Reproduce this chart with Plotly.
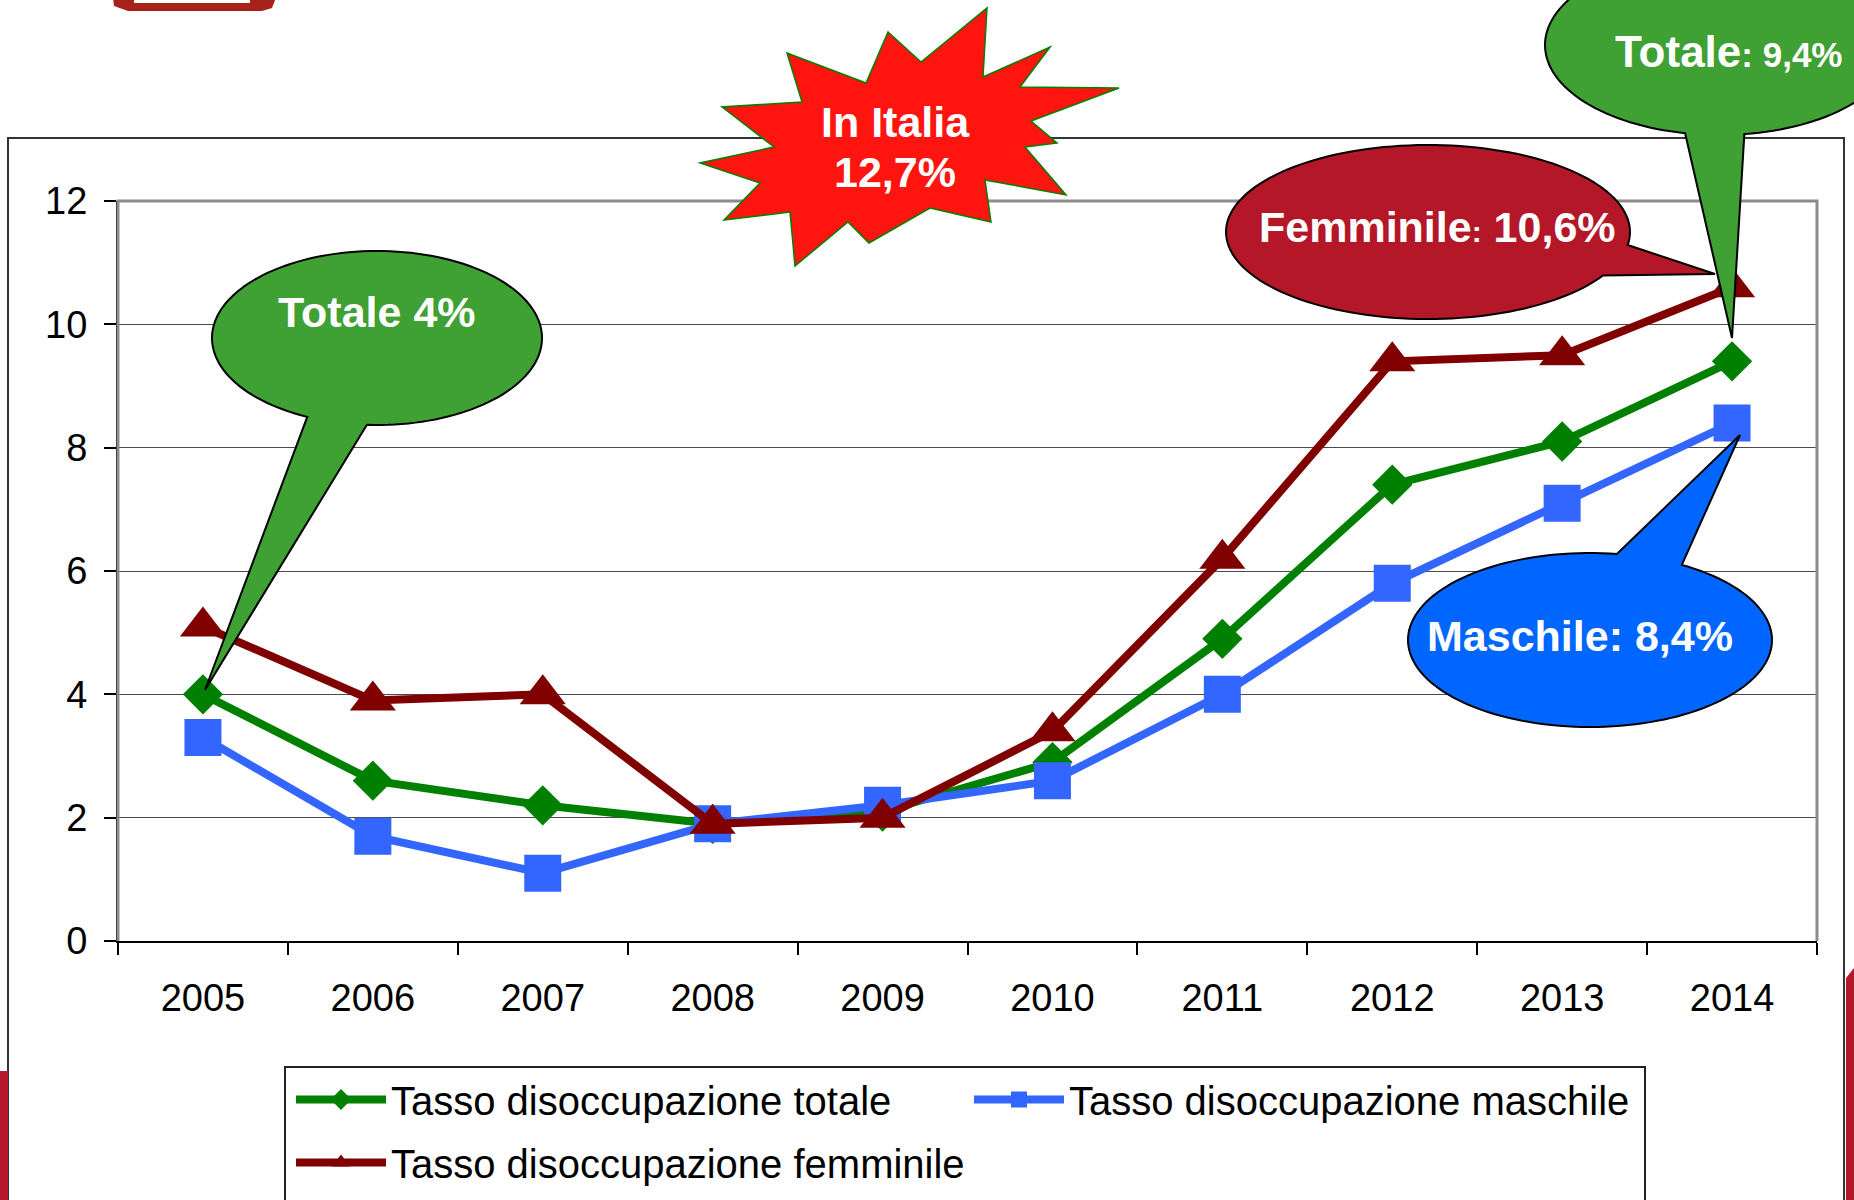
import math
import plotly.graph_objects as go

# ---------------- data ----------------
anni = ["2005", "2006", "2007", "2008", "2009", "2010", "2011", "2012", "2013", "2014"]
totale = [4.0, 2.6, 2.2, 1.9, 2.1, 2.9, 4.9, 7.4, 8.1, 9.4]
maschile = [3.3, 1.7, 1.1, 1.9, 2.2, 2.6, 4.0, 5.8, 7.1, 8.4]
femminile = [5.1, 3.9, 4.0, 1.9, 2.0, 3.4, 6.2, 9.4, 9.5, 10.6]
nomi = ["Tasso disoccupazione totale", "Tasso disoccupazione maschile",
        "Tasso disoccupazione femminile"]
y_ticks = [0, 2, 4, 6, 8, 10, 12]

# ---------------- geometry helpers (pixel -> paper) ----------------
W, H = 1854, 1200
PX0, PX1, PY0, PY1 = 118, 1817, 201, 941


def px(x):
    return (x - PX0) / (PX1 - PX0)


def py(y):
    return (PY1 - y) / (PY1 - PY0)


def path_from(points, close=True):
    s = "M " + " L ".join(f"{px(x):.5f},{py(y):.5f}" for x, y in points)
    return s + (" Z" if close else "")


def callout(cx, cy, rx, ry, t_start, t_end, tip, n=140):
    pts = []
    for i in range(n + 1):
        t = math.radians(t_start + (t_end - t_start) * i / n)
        pts.append((cx + rx * math.cos(t), cy + ry * math.sin(t)))
    pts.append(tip)
    return path_from(pts)


FONT = "Liberation Sans, Arial, sans-serif"

fig = go.Figure()
fig.add_trace(go.Scatter(x=anni, y=totale, name=nomi[0], mode="lines+markers",
                         line=dict(color="#008000", width=8), legend="legend",
                         marker=dict(symbol="diamond", size=31, color="#008000")))
fig.add_trace(go.Scatter(x=anni, y=maschile, name=nomi[1], mode="lines+markers",
                         line=dict(color="#3366FF", width=8), legend="legend2",
                         marker=dict(symbol="square", size=37, color="#3366FF")))
fig.add_trace(go.Scatter(x=anni, y=femminile, name=nomi[2], mode="lines+markers",
                         line=dict(color="#800000", width=8), legend="legend3",
                         marker=dict(symbol="triangle-up", size=40, color="#800000")))

shapes = []
# outer frame
shapes.append(dict(type="path", xref="paper", yref="paper",
                   path=path_from([(8, 138), (1844, 138), (1844, 1215), (8, 1215)]),
                   line=dict(color="#333333", width=2), fillcolor="rgba(0,0,0,0)"))
# red side decorations
shapes.append(dict(type="path", xref="paper", yref="paper",
                   path=path_from([(0, 1071), (8, 1071), (8, 1215), (0, 1215)]),
                   line=dict(width=0), fillcolor="#B5182B"))
shapes.append(dict(type="path", xref="paper", yref="paper",
                   path=path_from([(1846, 978), (1854, 968), (1854, 1215), (1846, 1215)]),
                   line=dict(width=0), fillcolor="#B5182B"))
# logo fragment top-left
shapes.append(dict(type="path", xref="paper", yref="paper",
                   path=path_from([(112, -10), (279, -10), (272, 8), (262, 11), (128, 11), (114, 6)]),
                   line=dict(width=0), fillcolor="#A8221C"))
shapes.append(dict(type="path", xref="paper", yref="paper",
                   path=path_from([(134, -10), (250, -10), (250, 3), (134, 3)]),
                   line=dict(width=0), fillcolor="#FFFFFF"))
# plot border (top/right grey)
shapes.append(dict(type="path", xref="paper", yref="paper",
                   path=path_from([(PX0, PY1), (PX0, PY0), (PX1, PY0), (PX1, PY1)], close=False),
                   line=dict(color="#8C8C8C", width=3), fillcolor="rgba(0,0,0,0)"))
# legend box
shapes.append(dict(type="path", xref="paper", yref="paper",
                   path=path_from([(285, 1067), (1645, 1067), (1645, 1215), (285, 1215)]),
                   line=dict(color="#222222", width=2), fillcolor="rgba(0,0,0,0)"))

# starburst "In Italia"
star = [(987, 8), (983, 77), (1050, 47), (1020, 87), (1119, 88), (1031, 121), (1057, 143),
        (1025, 147), (1066, 195), (985, 180), (991, 222), (930, 208), (869, 243), (848, 222),
        (795, 266), (790, 212), (724, 220), (760, 183), (700, 163), (774, 147), (722, 107),
        (802, 102), (787, 53), (866, 83), (888, 32), (921, 62)]
shapes.append(dict(type="path", xref="paper", yref="paper", path=path_from(star),
                   line=dict(color="#008000", width=1.5), fillcolor="#FF1410"))

# callouts
shapes.append(dict(type="path", xref="paper", yref="paper",
                   path=callout(377, 338, 165, 87, 115, 453.5, (205, 690)),
                   line=dict(color="#000000", width=2), fillcolor="#3FA034"))
shapes.append(dict(type="path", xref="paper", yref="paper",
                   path=callout(1428, 232, 202, 87, 30, 368.6, (1715, 274)),
                   line=dict(color="#000000", width=2), fillcolor="#B31728"))
shapes.append(dict(type="path", xref="paper", yref="paper",
                   path=callout(1590, 640, 182, 87, 300.3, 638.5, (1740, 435)),
                   line=dict(color="#000000", width=2), fillcolor="#0066FF"))
shapes.append(dict(type="path", xref="paper", yref="paper",
                   path=callout(1720, 45, 175, 90, 101.5, 442, (1732, 338)),
                   line=dict(color="#000000", width=2), fillcolor="#3FA034"))


def label(text, x, y, size=43):
    return dict(text=text, xref="paper", yref="paper", x=px(x), y=py(y),
                xanchor="center", yanchor="middle", showarrow=False,
                font=dict(family=FONT, size=size, color="white", weight="bold"))


annotations = [
    label("In Italia", 895, 122),
    label("12,7%", 895, 172),
    label("Totale 4%", 377, 312),
    label("Femminile<span style='font-size:30px'>:</span> 10,6%", 1437, 227),
    label("Maschile: 8,4%", 1580, 636),
    label("Totale<span style='font-size:35px'>: 9,4%</span>", 1728, 51, size=44),
]


def legend_box(x, y_top):
    return dict(orientation="h", x=px(x), y=py(y_top), xanchor="left", yanchor="top",
                font=dict(family=FONT, size=40, color="black"), itemwidth=90,
                bgcolor="rgba(0,0,0,0)", borderwidth=0)


fig.update_layout(
    width=W, height=H, autosize=False,
    margin=dict(l=PX0, r=W - PX1, t=PY0, b=H - PY1, pad=0, autoexpand=False),
    paper_bgcolor="white", plot_bgcolor="white",
    font=dict(family=FONT, color="black"),
    shapes=shapes, annotations=annotations,
    showlegend=True,
    legend=legend_box(291, 1067),
    legend2=legend_box(969, 1067),
    legend3=legend_box(291, 1130),
    xaxis=dict(type="category", categoryorder="array", categoryarray=anni,
               range=[-0.5, len(anni) - 0.5], showgrid=False, tickson="boundaries",
               ticks="outside", ticklen=12, tickwidth=1.5, tickcolor="black",
               showline=True, linecolor="black", linewidth=2, zeroline=False,
               tickfont=dict(family=FONT, size=38, color="black"),
               ticklabelstandoff=22, fixedrange=True, automargin=False),
    yaxis=dict(range=[0, 12], tickvals=y_ticks, ticks="outside", ticklen=12,
               tickwidth=1.5, tickcolor="black", showline=True, linecolor="black",
               linewidth=2, showgrid=True, gridcolor="#4A4A4A", gridwidth=1,
               zeroline=False, tickfont=dict(family=FONT, size=38, color="black"),
               ticklabelstandoff=9, fixedrange=True, automargin=False),
)

fig.write_html("out.html", config={"displayModeBar": False},
               post_script="document.body.style.margin='0';document.body.style.overflow='hidden';")
